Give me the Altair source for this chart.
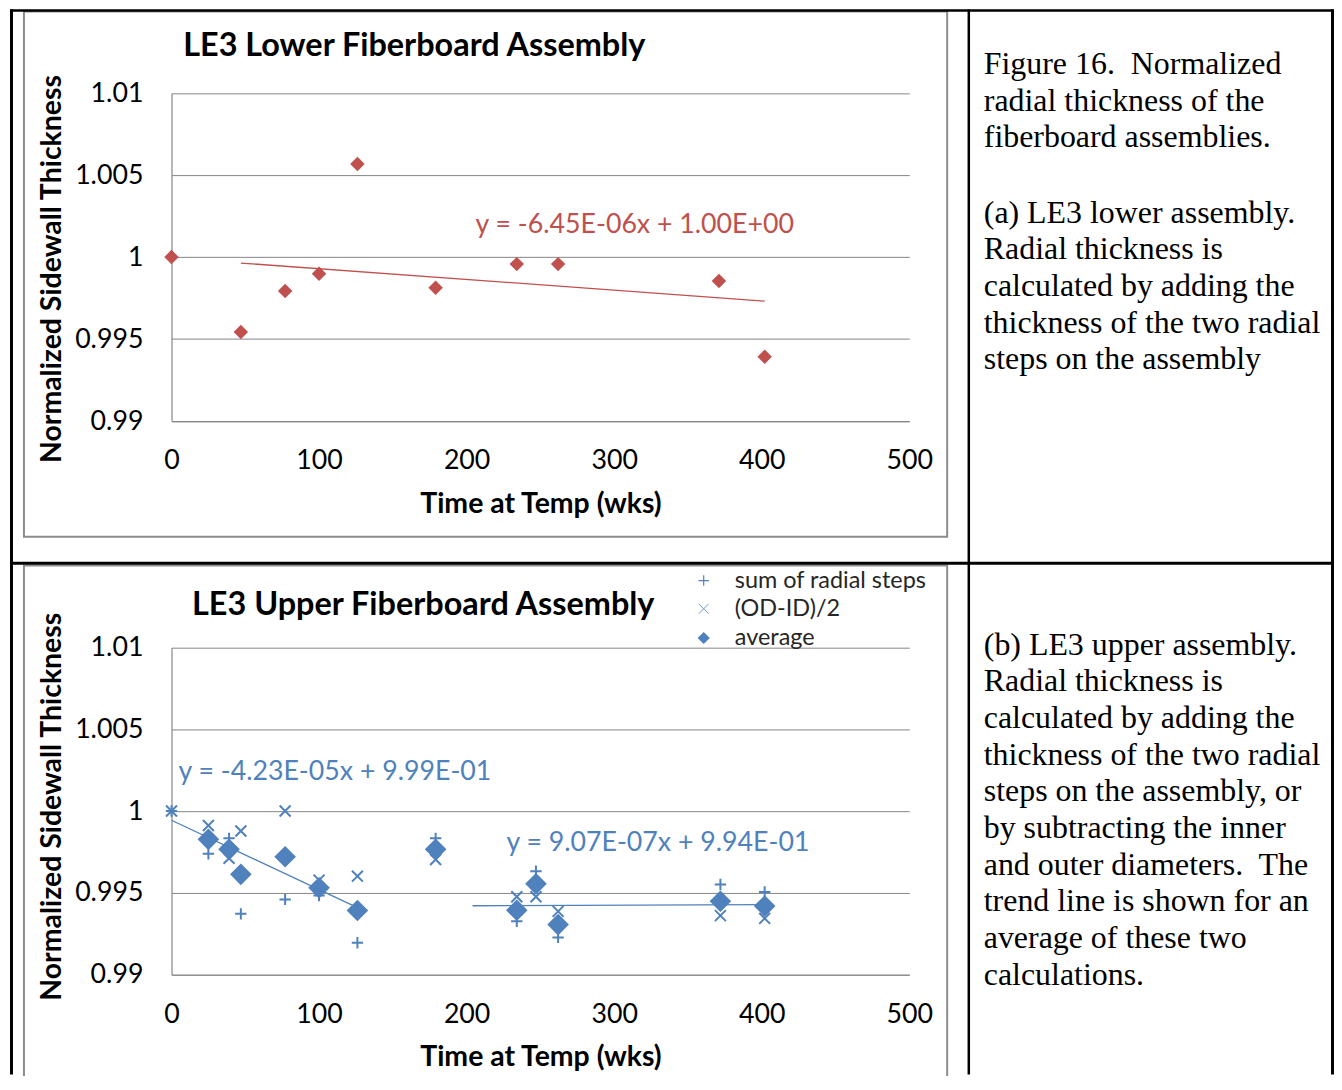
import altair as alt
import pandas as pd

# ---------------- data ----------------
lower_weeks = [0, 47, 77, 100, 126, 179, 234, 262, 371, 402]
lower_thickness = [1.0000, 0.99543, 0.99793, 0.99898, 1.00567, 0.99813,
                   0.99957, 0.99957, 0.99854, 0.99392]

upper_weeks = [0, 25, 39, 47, 77, 100, 126, 179, 234, 247, 262, 372, 402]
upper_sum_steps = [1.0000, 0.99739, 0.99833, 0.99372, 0.99460, 0.99484, 0.99195,
                   0.99833, 0.99326, 0.99632, 0.99228, 0.99551, 0.99506]
upper_od_id = [1.0000, 0.99912, 0.99711, 0.99878, 1.0000, 0.99578, 0.99602,
               0.99704, 0.99476, 0.99476, 0.99387, 0.99361, 0.99344]
upper_average = [1.0000, 0.99827, 0.99766, 0.99613, 0.99721, 0.99531, 0.99392,
                 0.99766, 0.99394, 0.99555, 0.99306, 0.99449, 0.99419]

x_ticks = [0, 100, 200, 300, 400, 500]
y_ticks = [0.99, 0.995, 1.0, 1.005, 1.01]

lower_title = "LE3 Lower Fiberboard Assembly"
upper_title = "LE3 Upper Fiberboard Assembly"
x_title = "Time at Temp (wks)"
y_title = "Normalized Sidewall Thickness"
lower_eq = "y = -6.45E-06x + 1.00E+00"
upper_eq1 = "y = -4.23E-05x + 9.99E-01"
upper_eq2 = "y = 9.07E-07x + 9.94E-01"
legend_labels = ["sum of radial steps", "(OD-ID)/2", "average"]

caption_a1 = ["Figure 16.\u00a0 Normalized", "radial thickness of the", "fiberboard assemblies."]
caption_a2 = ["(a) LE3 lower assembly.", "Radial thickness is", "calculated by adding the",
              "thickness of the two radial", "steps on the assembly"]
caption_b = ["(b) LE3 upper assembly.", "Radial thickness is", "calculated by adding the",
             "thickness of the two radial", "steps on the assembly, or",
             "by subtracting the inner", "and outer diameters.\u00a0 The",
             "trend line is shown for an", "average of these two", "calculations."]

# ---------------- tables ----------------
lower_df = pd.DataFrame({"week": lower_weeks, "thickness": lower_thickness})
upper_df = pd.DataFrame({"week": upper_weeks, "sum_steps": upper_sum_steps,
                         "od_id": upper_od_id, "average": upper_average})
one = pd.DataFrame({"k": [0]})

# ---------------- layout / style ----------------
W, H = 1330, 1068
PLOT_X = [164, 904]
TOP_Y = [412.7, 83.7]
BOT_Y = [968.0, 639.7]
RED = "#C0504D"
BLUE = "#4F81BD"
GRID = "#868686"
FONT = "Lato"
FS = 26.8
TFS = 28.5
PLUS = "M-1,0L1,0M0,-1L0,1"
CROSS = "M-1,-1L1,1M-1,1L1,-1"


def xs():
    return alt.Scale(domain=[0, 500], range=PLOT_X, nice=False, zero=False)


def ys(r):
    return alt.Scale(domain=[0.99, 1.01], range=r, nice=False, zero=False)


def y_axis(title_y):
    return alt.Axis(orient="left", values=y_ticks, format="~g", offset=-PLOT_X[0],
                    grid=True, gridColor=GRID, gridWidth=1, domain=True,
                    domainColor=GRID, domainWidth=1.2, ticks=False, tickSize=0,
                    labelPadding=28.7, labelFont=FONT, labelFontSize=FS,
                    labelColor="black", labelBaseline="middle", labelFlush=False,
                    labelOverlap=False, title=y_title, titleFont=FONT,
                    titleFontSize=TFS, titleFontWeight="bold", titleColor="black",
                    titleAngle=270, titleAlign="center", titleBaseline="middle",
                    titleX=-120, titleY=title_y)


def x_axis(y_pos):
    return alt.Axis(orient="bottom", values=x_ticks, format="d", offset=y_pos - H,
                    grid=False, domain=True, domainColor=GRID, domainWidth=1,
                    ticks=False, tickSize=0, labelPadding=40, labelFont=FONT,
                    labelFontSize=FS, labelColor="black", labelBaseline="middle",
                    labelFlush=False, labelOverlap=False, title=x_title,
                    titleFont=FONT, titleFontSize=TFS, titleFontWeight="bold",
                    titleColor="black", titleAlign="center", titleBaseline="middle",
                    titleX=(PLOT_X[0] + PLOT_X[1]) / 2, titleY=82.3)


def text(s, x, y, size=FS, color="black", weight="normal", align="left",
         font=FONT, line_height=None):
    kw = dict(align=align, baseline="alphabetic", font=font, fontSize=size,
              color=color, fontWeight=weight)
    if line_height is not None:
        kw.update(lineBreak="\n", lineHeight=line_height)
    return alt.Chart(one).mark_text(**kw).encode(
        x=alt.value(x), y=alt.value(y), text=alt.value(s))


def hline(y, x1, x2, color="black", w=2.5):
    return alt.Chart(one).mark_rule(color=color, strokeWidth=w).encode(
        x=alt.value(x1), x2=alt.value(x2), y=alt.value(y))


def vline(x, y1, y2, color="black", w=2.5):
    return alt.Chart(one).mark_rule(color=color, strokeWidth=w).encode(
        x=alt.value(x), y=alt.value(y1), y2=alt.value(y2))


def box(x1, x2, y1, y2):
    return alt.Chart(one).mark_rect(filled=False, stroke="#8c8c8c", strokeWidth=2,
                                    fillOpacity=0).encode(
        x=alt.value(x1), x2=alt.value(x2), y=alt.value(y1), y2=alt.value(y2))


# ---------------- frame ----------------
frame = [
    box(16, 942, 1.8, 528.7),
    box(16, 942, 557.5, H + 20),
    hline(1, 2, W, w=2.5),
    hline(555.3, 2, W, w=3),
    vline(3.5, 0, H, w=3),
    vline(963.7, 0, H, w=2.5),
    vline(W - 1.5, 0, H, w=3),
]

# ---------------- top chart (lower assembly) ----------------
top_points = alt.Chart(lower_df).mark_point(
    shape="diamond", filled=True, size=210, color=RED, opacity=1).encode(
    x=alt.X("week:Q", scale=xs(), axis=x_axis(TOP_Y[0])),
    y=alt.Y("thickness:Q", scale=ys(TOP_Y), axis=y_axis(259.7)))

top_trend = alt.Chart(lower_df).transform_filter("datum.week > 0").transform_regression(
    "week", "thickness").mark_line(color=RED, strokeWidth=1.3).encode(
    x=alt.X("week:Q", scale=xs(), axis=None),
    y=alt.Y("thickness:Q", scale=ys(TOP_Y), axis=None))

top_texts = [
    text(lower_title, 407.5, 47, size=32.5, weight="bold", align="center"),
    text(lower_eq, 469, 223.7, color=RED),
]

# ---------------- bottom chart (upper assembly) ----------------
bot_sum = alt.Chart(upper_df).mark_point(
    shape=PLUS, filled=False, size=130, color=BLUE, strokeWidth=2, opacity=1).encode(
    x=alt.X("week:Q", scale=xs(), axis=None),
    y=alt.Y("sum_steps:Q", scale=ys(BOT_Y), axis=None))

bot_od = alt.Chart(upper_df).mark_point(
    shape=CROSS, filled=False, size=121, color=BLUE, strokeWidth=2, opacity=1).encode(
    x=alt.X("week:Q", scale=xs(), axis=None),
    y=alt.Y("od_id:Q", scale=ys(BOT_Y), axis=None))

bot_avg = alt.Chart(upper_df).transform_filter("datum.week > 0").mark_point(
    shape="diamond", filled=True, size=470, color=BLUE, opacity=1).encode(
    x=alt.X("week:Q", scale=xs(), axis=x_axis(BOT_Y[0])),
    y=alt.Y("average:Q", scale=ys(BOT_Y), axis=y_axis(799)))

bot_trend1 = alt.Chart(upper_df).transform_filter("datum.week <= 130").transform_regression(
    "week", "average").mark_line(color=BLUE, strokeWidth=1.3).encode(
    x=alt.X("week:Q", scale=xs(), axis=None),
    y=alt.Y("average:Q", scale=ys(BOT_Y), axis=None))

bot_trend2 = alt.Chart(upper_df).transform_filter("datum.week >= 200").transform_regression(
    "week", "average", extent=[204, 402]).mark_line(color=BLUE, strokeWidth=1.3).encode(
    x=alt.X("week:Q", scale=xs(), axis=None),
    y=alt.Y("average:Q", scale=ys(BOT_Y), axis=None))

LEG_FS = 23.5
legend = [
    alt.Chart(one).mark_point(shape=PLUS, filled=False, size=110, color=BLUE,
                              strokeWidth=1.2, opacity=1).encode(
        x=alt.value(697.8), y=alt.value(572.7)),
    alt.Chart(one).mark_point(shape=CROSS, filled=False, size=100, color=BLUE,
                              strokeWidth=1.0, opacity=0.8).encode(
        x=alt.value(697.8), y=alt.value(601)),
    alt.Chart(one).mark_point(shape="diamond", filled=True, size=150, color=BLUE,
                              opacity=1).encode(
        x=alt.value(697.8), y=alt.value(630.3)),
    text(legend_labels[0], 729, 580.3, size=LEG_FS, color="#262626"),
    text(legend_labels[1], 729, 608.7, size=LEG_FS, color="#262626"),
    text(legend_labels[2], 729, 637, size=LEG_FS, color="#262626"),
]

bot_texts = [
    text(upper_title, 416.5, 607, size=32.5, weight="bold", align="center"),
    text(upper_eq1, 171, 772.5, color=BLUE),
    text(upper_eq2, 500, 844, color=BLUE),
]

# ---------------- captions ----------------
CAP_FONT = "Liberation Serif"
CAP_FS = 32
CAP_LH = 36.8
captions = [
    text("\n".join(caption_a1), 978.7, 64.7, size=CAP_FS, font=CAP_FONT, line_height=CAP_LH),
    text("\n".join(caption_a2), 978.7, 213.7, size=CAP_FS, font=CAP_FONT, line_height=CAP_LH),
    text("\n".join(caption_b), 978.7, 647, size=CAP_FS, font=CAP_FONT, line_height=CAP_LH),
]

layers = (frame + [top_points, top_trend] + top_texts +
          [bot_sum, bot_od, bot_avg, bot_trend1, bot_trend2] + legend + bot_texts + captions)

chart = alt.layer(*layers).resolve_scale(
    x="independent", y="independent"
).properties(
    width=W, height=H, padding=0,
    autosize=alt.AutoSizeParams(type="none"),
    background="white",
).configure_view(stroke=None)

chart.save("out.html", embed_options={"renderer": "svg", "actions": False})
